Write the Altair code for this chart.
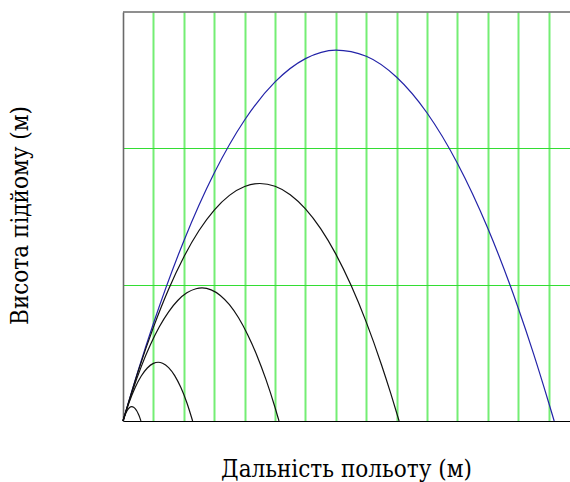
import altair as alt
import pandas as pd

# Trajectory samples: horizontal distance (m) and height (m) for each launch
blue_x = [0, 5, 10, 20, 30, 40, 50, 60, 70, 80, 90, 100, 110, 120, 130, 135, 140, 141.8]
blue_y = [0, 3.71, 7.15, 13.21, 18.19, 22.08, 24.87, 26.58, 27.21, 26.75, 25.21,
          22.59, 18.89, 14.12, 8.27, 4.94, 1.34, 0]

large_x = [0, 5, 10, 15, 20, 25, 30, 35, 40, 45, 50, 55, 60, 65, 70, 75, 80, 85, 88, 90.8]
large_y = [0, 3.65, 6.87, 9.67, 12.03, 13.97, 15.47, 16.55, 17.2, 17.42, 17.22, 16.6,
           15.56, 14.11, 12.24, 9.95, 7.25, 4.13, 2.06, 0]

medium_x = [0, 3, 6, 9, 12, 15, 18, 21, 24, 26, 29, 32, 35, 38, 41, 44, 47, 50, 51.3]
medium_y = [0, 2.12, 3.99, 5.59, 6.93, 8.01, 8.84, 9.40, 9.70, 9.76, 9.62, 9.21, 8.53,
            7.57, 6.33, 4.83, 3.05, 0.99, 0]

small_x = [0, 2, 4, 6, 8, 10, 11.6, 13, 15, 17, 19, 21, 22.9]
small_y = [0, 1.36, 2.46, 3.30, 3.89, 4.23, 4.31, 4.24, 3.92, 3.33, 2.47, 1.34, 0]

tiny_x = [0, 0.5, 1, 1.5, 2, 2.5, 2.9, 3.5, 4, 4.5, 5, 5.5, 5.9]
tiny_y = [0, 0.335, 0.606, 0.812, 0.955, 1.033, 1.05, 1.004, 0.904, 0.748, 0.537, 0.268, 0]

series = {
    "v5": (blue_x, blue_y),
    "v4": (large_x, large_y),
    "v3": (medium_x, medium_y),
    "v2": (small_x, small_y),
    "v1": (tiny_x, tiny_y),
}
series_colors = {"v5": "#2323a8", "v4": "#111111", "v3": "#111111",
                 "v2": "#111111", "v1": "#111111"}

x_grid = [10, 20, 30, 40, 50, 60, 70, 80, 90, 100, 110, 120, 130, 140]
y_grid = [10, 20]

rows = []
for name, (xs, ys) in series.items():
    for i, (xv, yv) in enumerate(zip(xs, ys)):
        rows.append({"x": xv, "y": yv, "run": name, "i": i})
df = pd.DataFrame(rows)

W, H = 447, 409
FONT = "DejaVu Serif Condensed, DejaVu Serif"

x_scale = alt.Scale(domain=[0, 147], nice=False, zero=True)
y_scale = alt.Scale(domain=[0, 30], nice=False, zero=True)

curves = alt.Chart(df).mark_line(strokeWidth=1.2, interpolate="monotone").encode(
    x=alt.X("x:Q", scale=x_scale,
            axis=alt.Axis(title="Дальність польоту (м)", values=x_grid,
                          grid=True, gridColor="#74ee74", gridWidth=2,
                          ticks=False, labels=False,
                          domainColor="#000000", domainWidth=1.2,
                          titleX=223, titleY=55,
                          titleAlign="center", titleBaseline="alphabetic")),
    y=alt.Y("y:Q", scale=y_scale,
            axis=alt.Axis(title="Висота підйому (м)", values=y_grid,
                          grid=True, gridColor="#33dd33", gridWidth=1,
                          ticks=False, labels=False,
                          domainColor="#6a6a6a", domainWidth=1.6,
                          titleAngle=270,
                          titleX=-103, titleY=203,
                          titleAlign="center", titleBaseline="middle")),
    color=alt.Color("run:N",
                    scale=alt.Scale(domain=list(series_colors.keys()),
                                    range=list(series_colors.values())),
                    legend=None),
    order="i:Q",
    detail="run:N",
)

# Upper frame edge
frame_top = alt.Chart(pd.DataFrame({"k": [0]})).mark_rule(
    color="#6a6a6a", strokeWidth=1.6
).encode(x=alt.value(0), x2=alt.value(W), y=alt.value(0))

chart = alt.layer(curves, frame_top).properties(
    width=W, height=H,
    padding={"left": 123, "top": 12, "right": 0, "bottom": 61},
    autosize=alt.AutoSizeParams(type="none"),
    background="#ffffff",
).configure(font=FONT).configure_axis(
    titleFont=FONT, titleFontSize=24, titleFontWeight="normal", titleColor="#000000"
).configure_view(stroke=None)

chart.save("out.html", embed_options={"renderer": "svg", "actions": False})
